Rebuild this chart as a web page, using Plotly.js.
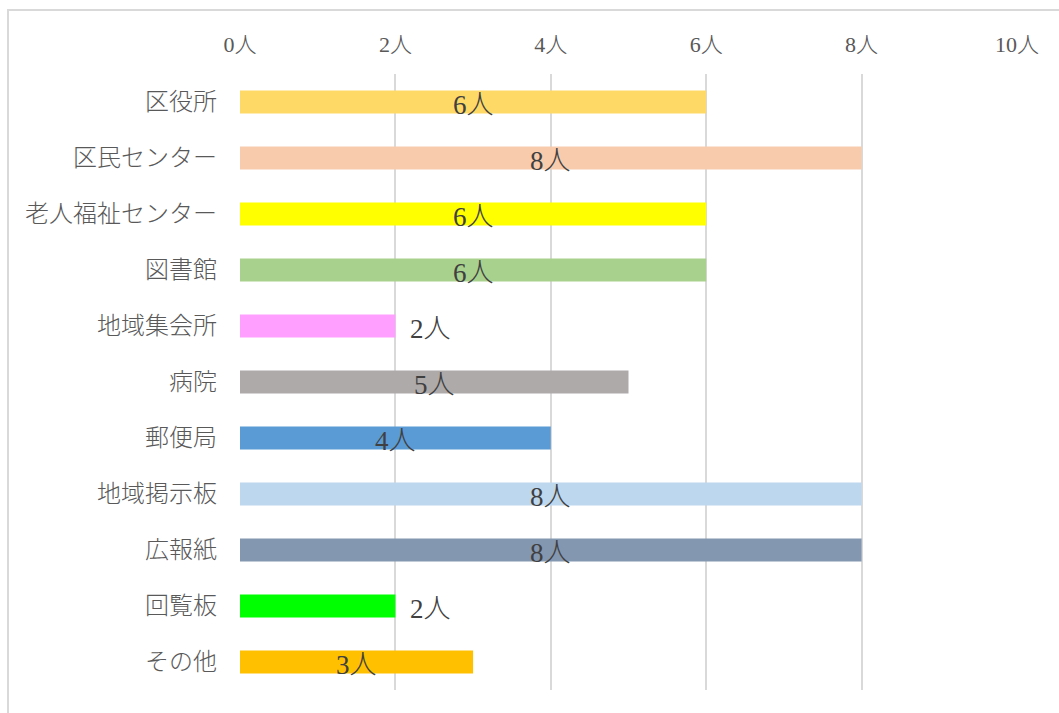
<!DOCTYPE html>
<html><head><meta charset="utf-8">
<script src="https://cdn.plot.ly/plotly-3.0.1.min.js"></script>
<style>
html,body{margin:0;padding:0;overflow:hidden;background:#fff;}
#chart{width:1059px;height:713px;}
#frame{position:absolute;left:7px;top:9px;width:1100px;height:800px;border:2px solid #d9d9d9;pointer-events:none;}
</style></head>
<body>
<div id="chart"></div>
<div id="frame"></div>
<script>
const categories = ["区役所","区民センター","老人福祉センター","図書館","地域集会所","病院","郵便局","地域掲示板","広報紙","回覧板","その他"];
const values = [6, 8, 6, 6, 2, 5, 4, 8, 8, 2, 3];
const barColors = ["#FFD966","#F8CBAD","#FFFF00","#A9D18E","#FF9FFF","#AEAAAA","#5B9BD5","#BDD7EE","#8497B0","#00FF00","#FFC000"];
const tickVals = [0, 2, 4, 6, 8, 10];
const tickLabels = ["0人","2人","4人","6人","8人","10人"];
const unit = "人";

const serif = "'Liberation Serif', 'DejaVu Serif', 'Noto Sans CJK JP', serif";

const trace = {
  type: "bar",
  orientation: "h",
  y: categories,
  x: values,
  marker: {color: barColors},
  width: 0.41,
  hoverinfo: "none"
};

const annotations = values.map((v, i) => {
  const outside = v <= 2;
  return {
    x: outside ? v : v / 2,
    y: categories[i],
    xref: "x", yref: "y",
    text: v + unit,
    showarrow: false,
    xanchor: outside ? "left" : "center",
    yanchor: "middle",
    xshift: outside ? 13 : 0,
    yshift: -3,
    font: {family: serif, size: 27, color: "#404040", weight: 300}
  };
});

const layout = {
  width: 1059, height: 713,
  margin: {l: 240, r: 42, t: 74, b: 23},
  paper_bgcolor: "#ffffff",
  plot_bgcolor: "#ffffff",
  showlegend: false,
  annotations: annotations,
  xaxis: {
    side: "top",
    range: [0, 10],
    tickvals: tickVals,
    ticktext: tickLabels,
    showgrid: true,
    gridcolor: "#d9d9d9",
    gridwidth: 2,
    zeroline: false,
    showline: false,
    ticks: "",
    ticklabelstandoff: 17,
    tickfont: {family: serif, size: 22, color: "#595959", weight: 300},
    fixedrange: true
  },
  yaxis: {
    autorange: "reversed",
    showgrid: false,
    zeroline: false,
    showline: false,
    ticks: "",
    ticklabelstandoff: 22,
    tickfont: {family: serif, size: 24, color: "#595959", weight: 300},
    fixedrange: true
  }
};

Plotly.newPlot("chart", [trace], layout, {displayModeBar: false, staticPlot: true});
</script>
</body></html>
